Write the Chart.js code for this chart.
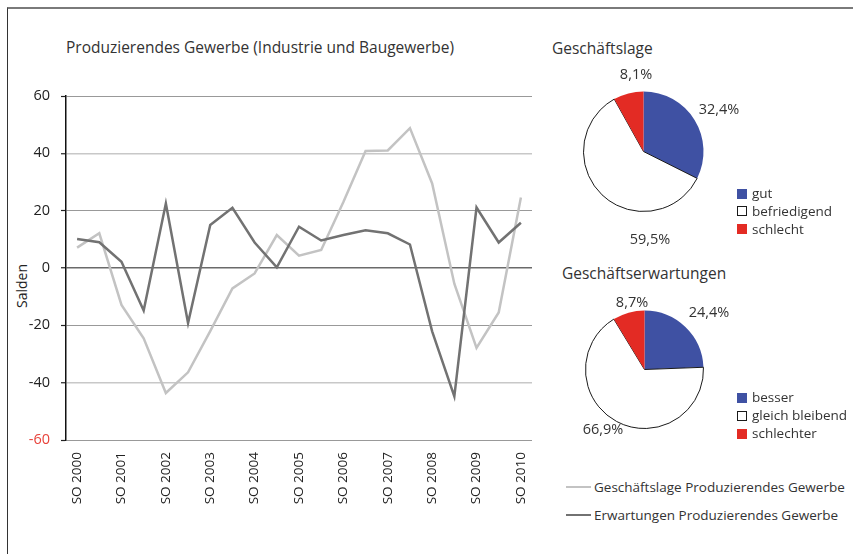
<!DOCTYPE html>
<html>
<head>
<meta charset="utf-8">
<script src="https://cdn.jsdelivr.net/npm/chart.js@4.4.0/dist/chart.umd.min.js"></script>
<style>
  html, body { margin:0; padding:0; background:#fff; width:853px; height:554px; overflow:hidden; font-family:"Open Sans", sans-serif; color:#333; }
  .abs { position:absolute; white-space:nowrap; }
  #frame { position:absolute; left:7px; top:7px; width:860px; height:560px; border-top:2px solid #7a7a7a; border-left:1.5px solid #333; box-sizing:border-box; }
  canvas { position:absolute; }
  .sq { position:absolute; width:10px; height:10px; box-sizing:border-box; }
  .sw { position:absolute; width:25px; height:0; }
  #yTitle { position:absolute; left:22px; top:286px; width:0; height:0; }
  #yTitle span { position:absolute; left:0; top:0; transform:translate(-50%,-50%) rotate(-90deg); font-size:14px; line-height:18px; color:#222; white-space:nowrap; }
</style>
</head>
<body>
<div id="frame"></div>
<div class="abs" id="mainTitle" style="left:66px; top:37px; font-size:15.5px; line-height:20px; color:#333;"></div>
<div class="abs" id="pie1Title" style="left:552px; top:38px; font-size:15.5px; line-height:20px; color:#333;"></div>
<div class="abs" id="pie2Title" style="left:562px; top:263px; font-size:15.5px; line-height:20px; color:#333;"></div>
<div id="yTitle"><span id="yTitleText"></span></div>
<canvas id="lineChart" width="540" height="474" style="left:0; top:80px;"></canvas>
<canvas id="pie1" width="180" height="200" style="left:560px; top:60px;"></canvas>
<canvas id="pie2" width="180" height="170" style="left:560px; top:285px;"></canvas>
<div id="legends"></div>
<script>
// ---------- data ----------
const mainTitle = 'Produzierendes Gewerbe (Industrie und Baugewerbe)';
const categories = ['SO 2000','JW 2000/01','SO 2001','JW 2001/02','SO 2002','JW 2002/03','SO 2003','JW 2003/04',
  'SO 2004','JW 2004/05','SO 2005','JW 2005/06','SO 2006','JW 2006/07','SO 2007','JW 2007/08','SO 2008',
  'JW 2008/09','SO 2009','JW 2009/10','SO 2010'];
const seriesNames = ['Geschäftslage Produzierendes Gewerbe', 'Erwartungen Produzierendes Gewerbe'];
const lageValues = [7.1, 12.1, -12.9, -24.5, -43.6, -36.4, -22, -7.1, -1.9, 11.5, 4.3, 6.3, 23, 40.8, 41, 48.8, 29.5, -5.5, -27.9, -15.5, 24.6];
const erwartValues = [10.1, 9, 2.2, -14.8, 22.5, -19.2, 15, 21, 8.9, 0.2, 14.4, 9.6, 11.5, 13.2, 12.1, 8.2, -22.1, -44.8, 21.1, 8.9, 15.8];
const yTicks = [-60, -40, -20, 0, 20, 40, 60];
const yTitle = 'Salden';

const pie1Title = 'Geschäftslage';
const pie1Labels = ['gut', 'befriedigend', 'schlecht'];
const pie1Values = [32.4, 59.5, 8.1];
const pie2Title = 'Geschäftserwartungen';
const pie2Labels = ['besser', 'gleich bleibend', 'schlechter'];
const pie2Values = [24.4, 66.9, 8.7];

// ---------- styles ----------
const FONT = '"Open Sans", sans-serif';
const lineColors = ['#c3c3c3', '#727272'];
const pieColors = ['#3f51a3', '#ffffff', '#e32b24'];
const pieBorders = ['#3f51a3', '#1a1a1a', '#e32b24'];
const pie1LabelOffsets = [[75.5, -41.5], [6.5, 88.5], [-7.5, -76.5]];
const pie2LabelOffsets = [[64.5, -56.5], [-41.5, 60.5], [-12.5, -66.5]];

document.getElementById('mainTitle').textContent = mainTitle;
document.getElementById('pie1Title').textContent = pie1Title;
document.getElementById('pie2Title').textContent = pie2Title;
document.getElementById('yTitleText').textContent = yTitle;

// ---------- line chart ----------
new Chart(document.getElementById('lineChart'), {
  type: 'line',
  data: {
    labels: categories,
    datasets: [
      { label: seriesNames[0], data: lageValues, borderColor: lineColors[0], borderWidth: 2.5, pointRadius: 0, tension: 0, order: 2 },
      { label: seriesNames[1], data: erwartValues, borderColor: lineColors[1], borderWidth: 2.5, pointRadius: 0, tension: 0, order: 1 }
    ]
  },
  options: {
    responsive: false, animation: false, events: [],
    layout: { padding: { top: 16, right: 8, left: 0, bottom: 0 } },
    plugins: { legend: { display: false }, tooltip: { enabled: false }, title: { display: false } },
    scales: {
      x: {
        offset: true,
        grid: { display: false, drawTicks: false },
        border: { display: false },
        ticks: {
          autoSkip: false, maxRotation: 90, minRotation: 90, padding: 12,
          font: { family: FONT, size: 13.5 }, color: '#222',
          callback: function (v, i) { return i % 2 === 0 ? categories[i] : ''; }
        },
        afterFit: function (s) { s.height = 114; s.paddingLeft = 0; s.paddingRight = 0; }
      },
      y: {
        min: -60, max: 60,
        afterBuildTicks: function (s) { s.ticks = yTicks.map(v => ({ value: v })); },
        grid: {
          color: c => (c.tick && c.tick.value === 0) ? '#6a6a6a' : (c.tick && Math.abs(c.tick.value) === 40 ? '#c8c8c8' : '#999999'),
          lineWidth: c => (c.tick && (c.tick.value === 0 || Math.abs(c.tick.value) === 40)) ? 1.5 : 1,
          tickLength: 5, tickColor: '#222', tickWidth: 1.2
        },
        border: { color: '#111', width: 1.5 },
        ticks: {
          padding: 11, font: { family: FONT, size: 14.5 },
          color: c => c.tick.value === -60 ? '#e8423a' : '#222'
        },
        title: { display: false },
        afterFit: function (s) { s.width = 66; s.paddingTop = 0; s.paddingBottom = 0; }
      }
    }
  }
});

// ---------- pies ----------
function fmt(v) { return v.toFixed(1).replace('.', ',') + '%'; }
const pieLabelPlugin = {
  id: 'pieLabels',
  afterDraw(chart, args, opts) {
    const meta = chart.getDatasetMeta(0);
    const a = meta.data[0];
    const ctx = chart.ctx;
    ctx.save();
    ctx.font = '14.5px ' + FONT;
    ctx.fillStyle = '#333';
    ctx.textAlign = 'center';
    ctx.textBaseline = 'middle';
    chart.data.datasets[0].data.forEach((v, i) => {
      const o = opts.offsets[i];
      ctx.fillText(fmt(v), a.x + o[0], a.y + o[1]);
    });
    ctx.restore();
  }
};
function makePie(id, labels, values, pad, offsets) {
  new Chart(document.getElementById(id), {
    type: 'pie',
    data: { labels: labels, datasets: [{ data: values, backgroundColor: pieColors, borderColor: pieBorders, borderWidth: [0, 1, 0] }] },
    options: {
      responsive: false, animation: false, events: [],
      layout: { padding: pad },
      plugins: { legend: { display: false }, tooltip: { enabled: false }, pieLabels: { offsets: offsets } }
    },
    plugins: [pieLabelPlugin]
  });
}
makePie('pie1', pie1Labels, pie1Values, { left: 23, top: 31, right: 36, bottom: 48 }, pie1LabelOffsets);
makePie('pie2', pie2Labels, pie2Values, { left: 25, top: 25, right: 36, bottom: 26 }, pie2LabelOffsets);

// ---------- HTML legends ----------
const legendsEl = document.getElementById('legends');
function pieLegend(labels, x, y0, step) {
  labels.forEach((lab, i) => {
    const cy = y0 + i * step;
    const sq = document.createElement('div');
    sq.className = 'sq';
    sq.style.left = x + 'px'; sq.style.top = (cy - 5) + 'px';
    sq.style.background = pieColors[i];
    if (pieColors[i] === '#ffffff') sq.style.border = '1px solid #1a1a1a';
    legendsEl.appendChild(sq);
    const t = document.createElement('div');
    t.className = 'abs';
    t.style.cssText += 'left:' + (x + 15) + 'px; top:' + (cy - 9.5) + 'px; font-size:13.5px; line-height:18px; color:#333;';
    t.textContent = lab;
    legendsEl.appendChild(t);
  });
}
pieLegend(pie1Labels, 737, 193.5, 17.8);
pieLegend(pie2Labels, 737, 397.5, 18);

seriesNames.forEach((name, i) => {
  const cy = 487 + i * 27.5;
  const sw = document.createElement('div');
  sw.className = 'sw';
  sw.style.left = '566px'; sw.style.top = (cy - 1) + 'px';
  sw.style.borderTop = '2.5px solid ' + lineColors[i];
  legendsEl.appendChild(sw);
  const t = document.createElement('div');
  t.className = 'abs';
  t.style.cssText += 'left:594px; top:' + (cy - 10) + 'px; font-size:13.5px; line-height:20px; color:#333;';
  t.textContent = name;
  legendsEl.appendChild(t);
});
</script>
</body>
</html>
